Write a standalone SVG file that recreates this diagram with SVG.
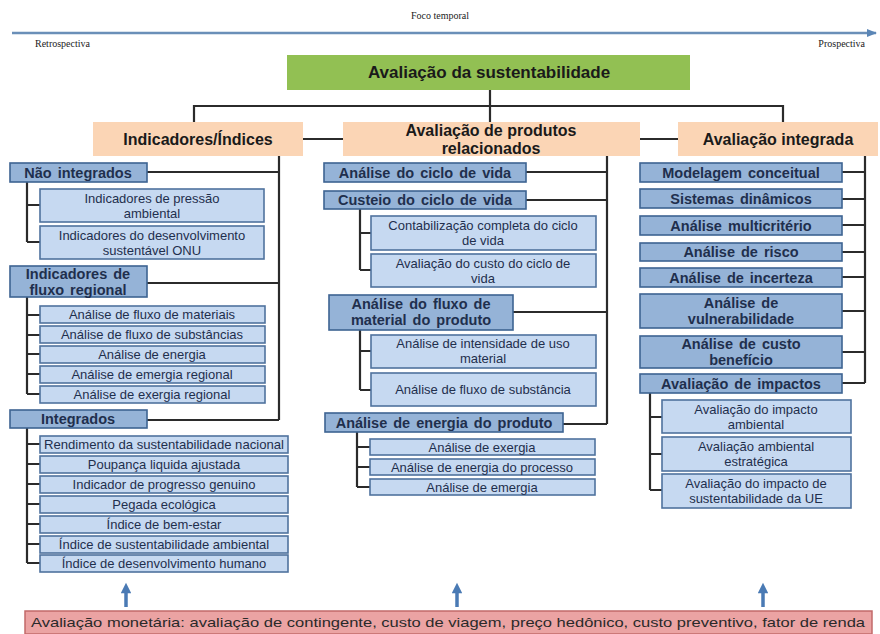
<svg xmlns="http://www.w3.org/2000/svg" width="880" height="634" viewBox="0 0 880 634">
<defs>
<style>
.ser{font-family:"Liberation Serif","Times New Roman",serif;font-size:10px;fill:#222}
.t{font-family:"Liberation Sans",Arial,sans-serif;fill:#1f2f4d;text-anchor:middle}
.sub{font-size:13px}
.l1{font-size:14.5px;font-weight:bold;word-spacing:2px}
.hd{font-size:16px;font-weight:bold;fill:#1a1a1a}
.b1{fill:#95b3d7;stroke:#3d6392;stroke-width:1.6}
.b2{fill:#c6d9f1;stroke:#4f729e;stroke-width:1.6}
.or{fill:#fbd5b5}
.cn{fill:none;stroke:#2b2b2b;stroke-width:2.2}
.ar{stroke:#4a7ab4;stroke-width:3.5;fill:none}
</style>
<marker id="ah" viewBox="0 0 10 10" refX="5" refY="5" markerWidth="3.2" markerHeight="3" orient="auto">
<path d="M0,0 L10,5 L0,10 z" fill="#4a7ab4"/>
</marker>
<marker id="ta" viewBox="0 0 10 10" refX="9" refY="5" markerWidth="4" markerHeight="4" orient="auto">
<path d="M0,1 L10,5 L0,9 z" fill="#5b86b6"/>
</marker>
</defs>
<rect width="880" height="634" fill="#ffffff"/>

<g id="timeline">
<text class="ser" x="440" y="19" text-anchor="middle">Foco temporal</text>
<line x1="12" y1="33" x2="876" y2="33" stroke="#6a8fb8" stroke-width="2.5" marker-end="url(#ta)"/>
<text class="ser" x="35" y="47">Retrospectiva</text>
<text class="ser" x="865" y="47" text-anchor="end">Prospectiva</text>
</g>

<g id="connectors">
<path class="cn" d="M490 90 V122"/>
<path class="cn" d="M194 122 V106 H783 V122"/>
<path class="cn" d="M303 139 H343 M640 139 H678"/>
<path class="cn" d="M279 156 V420 M147 172 H279 M147 283 H279 M147 420 H279"/>
<path class="cn" d="M27 182 V242 M27 205 H40 M27 242 H40"/>
<path class="cn" d="M27 297 V394 M27 315 H40 M27 335 H40 M27 354 H40 M27 374 H40 M27 394 H40"/>
<path class="cn" d="M27 428 V563 M27 444 H40 M27 464 H40 M27 484 H40 M27 504 H40 M27 524 H40 M27 544 H40 M27 563 H40"/>
<path class="cn" d="M607 156 V424 M526 172 H607 M526 200 H607 M513 312 H607 M563 424 H607"/>
<path class="cn" d="M360 209 V270 M360 233 H371 M360 270 H371"/>
<path class="cn" d="M360 330 V390 M360 351 H371 M360 390 H371"/>
<path class="cn" d="M357 432 V487 M357 447 H370 M357 467 H370 M357 487 H370"/>
<path class="cn" d="M865 156 V383 M842 172 H865 M842 199 H865 M842 225 H865 M842 252 H865 M842 277 H865 M842 311 H865 M842 352 H865 M842 383 H865"/>
<path class="cn" d="M650 393 V490 M650 417 H662 M650 454 H662 M650 490 H662"/>
<path class="ar" d="M126 607 V588" marker-end="url(#ah)"/>
<path class="ar" d="M457 607 V588" marker-end="url(#ah)"/>
<path class="ar" d="M763 607 V588" marker-end="url(#ah)"/>
</g>

<g id="root">
<rect x="287" y="55" width="403" height="35" fill="#92c053"/>
<text class="t" x="489" y="78" style="font-size:17px;font-weight:bold;fill:#1a1a1a">Avaliação da sustentabilidade</text>
</g>

<g id="indicadores">
<rect class="or" x="93" y="122" width="210" height="34"/>
<text class="t hd" x="198" y="145">Indicadores/Índices</text>
</g>
<g id="produtos">
<rect class="or" x="343" y="122" width="297" height="34"/>
<text class="t hd" x="491" y="136">Avaliação de produtos</text>
<text class="t hd" x="491" y="154">relacionados</text>
</g>
<g id="integrada">
<rect class="or" x="678" y="122" width="200" height="34"/>
<text class="t hd" x="778" y="145">Avaliação integrada</text>
</g>

<!-- Left column -->
<g id="nao-integrados">
<rect class="b1" x="10" y="163" width="137" height="19"/>
<text class="t l1" x="78" y="178">Não integrados</text>
</g>
<g id="pressao">
<rect class="b2" x="40" y="189" width="224" height="33"/>
<text class="t sub" x="152" y="203">Indicadores de pressão</text>
<text class="t sub" x="152" y="218">ambiental</text>
</g>
<g id="onu">
<rect class="b2" x="40" y="226" width="224" height="33"/>
<text class="t sub" x="152" y="240">Indicadores do desenvolvimento</text>
<text class="t sub" x="152" y="255">sustentável ONU</text>
</g>
<g id="fluxo-regional">
<rect class="b1" x="10" y="266" width="137" height="31"/>
<text class="t l1" x="78" y="279">Indicadores de</text>
<text class="t l1" x="78" y="295">fluxo regional</text>
</g>
<g id="fluxo-materiais">
<rect class="b2" x="40" y="306" width="225" height="17"/>
<text class="t sub" x="152" y="319">Análise de fluxo de materiais</text>
</g>
<g id="fluxo-substancias">
<rect class="b2" x="40" y="326" width="225" height="17"/>
<text class="t sub" x="152" y="339">Análise de fluxo de substâncias</text>
</g>
<g id="energia">
<rect class="b2" x="40" y="346" width="225" height="17"/>
<text class="t sub" x="152" y="359">Análise de energia</text>
</g>
<g id="emergia-regional">
<rect class="b2" x="40" y="366" width="225" height="17"/>
<text class="t sub" x="152" y="379">Análise de emergia regional</text>
</g>
<g id="exergia-regional">
<rect class="b2" x="40" y="386" width="225" height="17"/>
<text class="t sub" x="152" y="399">Análise de exergia regional</text>
</g>
<g id="integrados">
<rect class="b1" x="10" y="410" width="137" height="18"/>
<text class="t l1" x="78" y="424">Integrados</text>
</g>
<g id="rendimento">
<rect class="b2" x="40" y="436" width="248" height="17"/>
<text class="t sub" x="164" y="449" textLength="240" lengthAdjust="spacingAndGlyphs">Rendimento da sustentabilidade nacional</text>
</g>
<g id="poupanca">
<rect class="b2" x="40" y="456" width="248" height="17"/>
<text class="t sub" x="164" y="469">Poupança liquida ajustada</text>
</g>
<g id="progresso">
<rect class="b2" x="40" y="476" width="248" height="17"/>
<text class="t sub" x="164" y="489">Indicador de progresso genuino</text>
</g>
<g id="pegada">
<rect class="b2" x="40" y="496" width="248" height="17"/>
<text class="t sub" x="164" y="509">Pegada ecológica</text>
</g>
<g id="bem-estar">
<rect class="b2" x="40" y="516" width="248" height="17"/>
<text class="t sub" x="164" y="529">Índice de bem-estar</text>
</g>
<g id="sust-ambiental">
<rect class="b2" x="40" y="536" width="248" height="17"/>
<text class="t sub" x="164" y="549">Índice de sustentabilidade ambiental</text>
</g>
<g id="idh">
<rect class="b2" x="40" y="555" width="248" height="17"/>
<text class="t sub" x="164" y="568">Índice de desenvolvimento humano</text>
</g>

<!-- Middle column -->
<g id="acv">
<rect class="b1" x="324" y="163" width="202" height="19"/>
<text class="t l1" x="425" y="178">Análise do ciclo de vida</text>
</g>
<g id="custeio">
<rect class="b1" x="324" y="191" width="202" height="18"/>
<text class="t l1" x="425" y="205">Custeio do ciclo de vida</text>
</g>
<g id="contabilizacao">
<rect class="b2" x="371" y="216" width="225" height="34"/>
<text class="t sub" x="483" y="230">Contabilização completa do ciclo</text>
<text class="t sub" x="483" y="245">de vida</text>
</g>
<g id="custo-ciclo">
<rect class="b2" x="371" y="254" width="225" height="33"/>
<text class="t sub" x="483" y="268">Avaliação do custo do ciclo de</text>
<text class="t sub" x="483" y="283">vida</text>
</g>
<g id="fluxo-produto">
<rect class="b1" x="329" y="295" width="184" height="35"/>
<text class="t l1" x="421" y="309">Análise do fluxo de</text>
<text class="t l1" x="421" y="325">material do produto</text>
</g>
<g id="intensidade">
<rect class="b2" x="371" y="335" width="225" height="33"/>
<text class="t sub" x="483" y="348">Análise de intensidade de uso</text>
<text class="t sub" x="483" y="363">material</text>
</g>
<g id="fluxo-substancia">
<rect class="b2" x="371" y="373" width="225" height="33"/>
<text class="t sub" x="483" y="394">Análise de fluxo de substância</text>
</g>
<g id="energia-produto">
<rect class="b1" x="325" y="413" width="238" height="19"/>
<text class="t l1" x="444" y="428">Análise de energia do produto</text>
</g>
<g id="exergia">
<rect class="b2" x="370" y="439" width="225" height="16"/>
<text class="t sub" x="482" y="452">Análise de exergia</text>
</g>
<g id="energia-processo">
<rect class="b2" x="370" y="459" width="225" height="16"/>
<text class="t sub" x="482" y="472">Análise de energia do processo</text>
</g>
<g id="emergia">
<rect class="b2" x="370" y="479" width="225" height="16"/>
<text class="t sub" x="482" y="492">Análise de emergia</text>
</g>

<!-- Right column -->
<g id="modelagem">
<rect class="b1" x="640" y="163" width="202" height="19"/>
<text class="t l1" x="741" y="178">Modelagem conceitual</text>
</g>
<g id="sistemas">
<rect class="b1" x="640" y="189" width="202" height="19"/>
<text class="t l1" x="741" y="204">Sistemas dinâmicos</text>
</g>
<g id="multicriterio">
<rect class="b1" x="640" y="216" width="202" height="19"/>
<text class="t l1" x="741" y="231">Análise multicritério</text>
</g>
<g id="risco">
<rect class="b1" x="640" y="243" width="202" height="18"/>
<text class="t l1" x="741" y="257">Análise de risco</text>
</g>
<g id="incerteza">
<rect class="b1" x="640" y="268" width="202" height="19"/>
<text class="t l1" x="741" y="283">Análise de incerteza</text>
</g>
<g id="vulnerabilidade">
<rect class="b1" x="640" y="294" width="202" height="34"/>
<text class="t l1" x="741" y="308">Análise de</text>
<text class="t l1" x="741" y="324">vulnerabilidade</text>
</g>
<g id="custo-beneficio">
<rect class="b1" x="640" y="336" width="202" height="32"/>
<text class="t l1" x="741" y="349">Análise de custo</text>
<text class="t l1" x="741" y="365">benefício</text>
</g>
<g id="impactos">
<rect class="b1" x="640" y="374" width="202" height="19"/>
<text class="t l1" x="741" y="389">Avaliação de impactos</text>
</g>
<g id="impacto-ambiental">
<rect class="b2" x="662" y="400" width="189" height="33"/>
<text class="t sub" x="756" y="414">Avaliação do impacto</text>
<text class="t sub" x="756" y="429">ambiental</text>
</g>
<g id="ambiental-estrategica">
<rect class="b2" x="662" y="437" width="189" height="34"/>
<text class="t sub" x="756" y="451">Avaliação ambiental</text>
<text class="t sub" x="756" y="466">estratégica</text>
</g>
<g id="impacto-ue">
<rect class="b2" x="662" y="474" width="189" height="34"/>
<text class="t sub" x="756" y="488">Avaliação do impacto de</text>
<text class="t sub" x="756" y="503">sustentabilidade da UE</text>
</g>

<g id="monetaria">
<rect x="25" y="611" width="847" height="23" fill="#eba3a3" stroke="#c26a6a" stroke-width="1.5"/>
<text class="t" x="448" y="627" style="font-size:13px;fill:#2a2a2a" textLength="834" lengthAdjust="spacingAndGlyphs">Avaliação monetária: avaliação de contingente, custo de viagem, preço hedônico, custo preventivo, fator de renda</text>
</g>
</svg>
